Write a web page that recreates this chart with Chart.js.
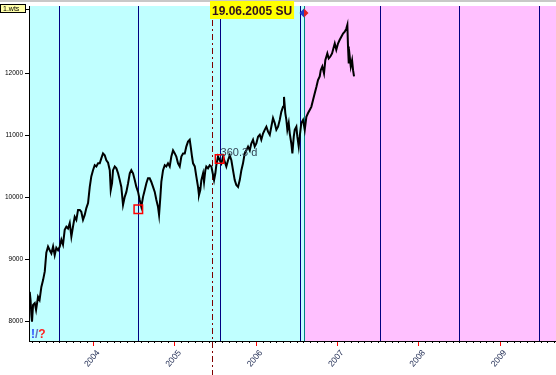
<!DOCTYPE html>
<html>
<head>
<meta charset="utf-8">
<script src="https://cdn.jsdelivr.net/npm/chart.js@4"></script>
<style>
  html, body { margin: 0; padding: 0; background: #fff; overflow: hidden; }
</style>
</head>
<body>
<canvas id="c" width="556" height="375"></canvas>
<script>
// index closes (decimal year, value)
const dates = [
  2003.218, 2003.228, 2003.238, 2003.246, 2003.259, 2003.280, 2003.296, 2003.320, 2003.339, 2003.361,
  2003.382, 2003.403, 2003.422, 2003.443, 2003.464, 2003.484, 2003.505, 2003.525, 2003.545, 2003.566,
  2003.587, 2003.607, 2003.627, 2003.648, 2003.668, 2003.689, 2003.710, 2003.730, 2003.750, 2003.771,
  2003.791, 2003.812, 2003.833, 2003.852, 2003.873, 2003.894, 2003.914, 2003.935, 2003.956, 2003.975,
  2003.996, 2004.017, 2004.037, 2004.058, 2004.079, 2004.098, 2004.119, 2004.140, 2004.160, 2004.181,
  2004.202, 2004.214, 2004.230, 2004.242, 2004.263, 2004.283, 2004.304, 2004.325, 2004.344, 2004.365,
  2004.386, 2004.406, 2004.427, 2004.448, 2004.467, 2004.488, 2004.509, 2004.529, 2004.550, 2004.570,
  2004.590, 2004.611, 2004.632, 2004.652, 2004.672, 2004.693, 2004.713, 2004.734, 2004.755, 2004.775,
  2004.795, 2004.808, 2004.824, 2004.836, 2004.857, 2004.878, 2004.897, 2004.918, 2004.939, 2004.959,
  2004.980, 2005.001, 2005.020, 2005.041, 2005.062, 2005.082, 2005.103, 2005.124, 2005.143, 2005.164,
  2005.185, 2005.197, 2005.213, 2005.226, 2005.247, 2005.266, 2005.287, 2005.299, 2005.315, 2005.328,
  2005.349, 2005.361, 2005.377, 2005.389, 2005.410, 2005.431, 2005.451, 2005.472, 2005.484, 2005.500,
  2005.512, 2005.533, 2005.554, 2005.574, 2005.595, 2005.615, 2005.635, 2005.656, 2005.677, 2005.697,
  2005.717, 2005.738, 2005.758, 2005.779, 2005.800, 2005.820, 2005.840, 2005.861, 2005.881, 2005.902,
  2005.923, 2005.942, 2005.963, 2005.984, 2006.004, 2006.025, 2006.046, 2006.065, 2006.086, 2006.107,
  2006.127, 2006.148, 2006.169, 2006.188, 2006.209, 2006.230, 2006.250, 2006.271, 2006.292, 2006.311,
  2006.332, 2006.344, 2006.360, 2006.373, 2006.385, 2006.402, 2006.415, 2006.434, 2006.447, 2006.464,
  2006.476, 2006.496, 2006.508, 2006.525, 2006.537, 2006.557, 2006.578, 2006.599, 2006.619, 2006.640,
  2006.660, 2006.680, 2006.701, 2006.722, 2006.742, 2006.762, 2006.783, 2006.796, 2006.815, 2006.836,
  2006.852, 2006.877, 2006.894, 2006.914, 2006.935, 2006.951, 2006.968, 2006.987, 2007.008, 2007.029,
  2007.049, 2007.070, 2007.091, 2007.110, 2007.123, 2007.131, 2007.140, 2007.152, 2007.165, 2007.181,
  2007.193, 2007.205
]
const closes = [
  8480, 8350, 8110, 8000, 8270, 8300, 8190, 8400, 8350, 8560,
  8670, 8810, 9110, 9210, 9150, 9100, 9210, 9070, 9190, 9150,
  9210, 9320, 9240, 9480, 9530, 9500, 9590, 9370, 9530, 9690,
  9640, 9800, 9800, 9770, 9640, 9720, 9830, 9910, 10170, 10340,
  10440, 10520, 10500, 10550, 10550, 10630, 10710, 10680, 10600, 10560,
  10440, 10120, 10230, 10440, 10500, 10470, 10390, 10280, 10170, 9880,
  10010, 10090, 10230, 10390, 10440, 10390, 10280, 10170, 10090, 9960,
  9850, 10010, 10120, 10230, 10310, 10310, 10250, 10170, 10090, 9960,
  9850, 9720, 10010, 10250, 10440, 10520, 10500, 10550, 10500, 10660,
  10760, 10710, 10660, 10550, 10500, 10660, 10710, 10710, 10820, 10900,
  10930, 10820, 10660, 10550, 10500, 10340, 10170, 10040, 10120, 10280,
  10390, 10250, 10440, 10500, 10470, 10520, 10500, 10360, 10280, 10390,
  10520, 10660, 10600, 10550, 10660, 10580, 10500, 10600, 10680, 10600,
  10440, 10280, 10200, 10170, 10280, 10440, 10550, 10710, 10760, 10820,
  10760, 10870, 10930, 10820, 10870, 10980, 11010, 10930, 11030, 11090,
  11140, 11060, 11010, 11140, 11280, 11200, 11090, 11140, 11250, 11380,
  11460, 11620, 11360, 11250, 11090, 11200, 11030, 10870, 10710, 10980,
  11090, 11140, 10980, 10820, 10980, 11200, 11250, 11090, 11300, 11360,
  11410, 11460, 11570, 11680, 11780, 11890, 11950, 12050, 12110, 12000,
  12210, 12320, 12240, 12270, 12320, 12400, 12480, 12380, 12480, 12540,
  12590, 12640, 12670, 12720, 12780, 12430, 12160, 12270, 12110, 12210,
  12050, 11950
]

// red square markers and the cycle lines
const markDates = [2004.553, 2005.552]
const markValues = [9810, 10620]
const cycleDates = [2003.572, 2004.553, 2005.552, 2006.535, 2007.519, 2008.500, 2009.483]
const zoneSplit = 2006.597
const signalDate = 2005.463
const signalText = "19.06.2005 SU"
const spanText = "360.3 d"
const spanValue = 10670

const yearTicks = [2004, 2005, 2006, 2007, 2008, 2009]
const valueTicks = [8000, 9000, 10000, 11000, 12000]

const FONT = "'Liberation Sans', Arial, sans-serif"

const vline = (ctx, x, y0, y1) => {
  ctx.beginPath()
  ctx.moveTo(x, y0)
  ctx.lineTo(x, y1)
  ctx.stroke()
}

const decor = {
  id: "decor",
  beforeDraw(chart) {
    const { ctx, chartArea: a, scales: { x } } = chart
    const split = Math.round(x.getPixelForValue(zoneSplit))
    ctx.save()
    ctx.fillStyle = "#c0ffff"
    ctx.fillRect(a.left, a.top, split - a.left, a.bottom - a.top)
    ctx.fillStyle = "#ffc0ff"
    ctx.fillRect(split, a.top, a.right - split, a.bottom - a.top)
    ctx.restore()
  },
  beforeDatasetsDraw(chart) {
    const { ctx, chartArea: a, scales: { x } } = chart
    ctx.save()
    ctx.lineWidth = 1
    ctx.strokeStyle = "#000080"
    cycleDates.forEach((d) => {
      const px = Math.round(x.getPixelForValue(d)) + 0.5
      vline(ctx, px, a.top, a.bottom)
    })
    ctx.strokeStyle = "#008080"
    const tp = Math.round(x.getPixelForValue(zoneSplit)) - 0.5
    vline(ctx, tp, a.top, a.bottom)

    // signal date, dash-dot
    const sp = Math.round(x.getPixelForValue(signalDate)) + 0.5
    ctx.strokeStyle = "#800000"
    ctx.setLineDash([6, 3, 2, 3])
    vline(ctx, sp, 20, chart.height)
    ctx.setLineDash([])

    // minor month ticks on the time axis
    ctx.strokeStyle = "#000"
    for (let m = Math.ceil(x.min * 12); m <= x.max * 12; m++) {
      if (m % 12 === 0) continue
      const px = Math.round(x.getPixelForValue(m / 12)) + 0.5
      vline(ctx, px, a.bottom, a.bottom + 2)
    }
    ctx.restore()
  },
  afterDatasetsDraw(chart) {
    const { ctx, scales: { x, y } } = chart
    ctx.save()
    ctx.font = "11px " + FONT
    ctx.fillStyle = "#334455"
    ctx.textBaseline = "alphabetic"
    ctx.fillText(spanText, x.getPixelForValue(markDates[1]) + 1, y.getPixelForValue(spanValue))
    ctx.restore()
  },
  afterDraw(chart) {
    const { ctx, chartArea: a, scales: { x } } = chart
    ctx.save()
    // top strip
    ctx.fillStyle = "#c8c8c8"
    ctx.fillRect(0, 0, chart.width, 2)

    // signal label
    const sp = Math.round(x.getPixelForValue(signalDate))
    ctx.font = "bold 12px " + FONT
    const w = ctx.measureText(signalText).width
    ctx.fillStyle = "#ffff00"
    ctx.fillRect(sp - 2, 1, w + 4, 18)
    ctx.fillStyle = "#301020"
    ctx.textBaseline = "alphabetic"
    ctx.fillText(signalText, sp, 15)

    // diamond at zone split
    const dp = Math.round(x.getPixelForValue(zoneSplit)) - 1
    ctx.fillStyle = "#1e3cc8"
    ctx.beginPath()
    ctx.moveTo(dp, 8.5); ctx.lineTo(dp - 4.5, 13); ctx.lineTo(dp, 17.5); ctx.closePath()
    ctx.fill()
    ctx.fillStyle = "#e02020"
    ctx.beginPath()
    ctx.moveTo(dp, 8.5); ctx.lineTo(dp + 4.5, 13); ctx.lineTo(dp, 17.5); ctx.closePath()
    ctx.fill()

    // series name tag
    ctx.fillStyle = "#ffffa8"
    ctx.fillRect(0.5, 4.5, 25, 8)
    ctx.strokeStyle = "#000"
    ctx.lineWidth = 1
    ctx.strokeRect(0.5, 4.5, 25, 8)
    ctx.beginPath()
    ctx.moveTo(25.5, 9.5); ctx.lineTo(a.left, 9.5)
    ctx.stroke()
    ctx.font = "7px " + FONT
    ctx.fillStyle = "#000"
    ctx.textBaseline = "middle"
    ctx.fillText("1.wts", 3, 9)

    // !/? marks
    ctx.font = "bold 12px " + FONT
    ctx.textBaseline = "alphabetic"
    let cx = a.left + 2
    ;[["!", "#3050ff"], ["/", "#6070c0"], ["?", "#ff2020"]].forEach(([t, c]) => {
      ctx.fillStyle = c
      ctx.fillText(t, cx, 338)
      cx += ctx.measureText(t).width
    })
    ctx.restore()
  },
}

const ctx = document.getElementById("c").getContext("2d")
new Chart(ctx, {
  type: "line",
  data: {
    datasets: [
      {
        label: "close",
        data: dates.map((d, i) => ({ x: d, y: closes[i] })),
        borderColor: "#000",
        borderWidth: 2,
        pointRadius: 0,
        tension: 0,
        order: 2,
      },
      {
        type: "scatter",
        label: "marks",
        data: markDates.map((d, i) => ({ x: d, y: markValues[i] })),
        pointStyle: "rect",
        pointRadius: 6,
        borderColor: "#ff0000",
        borderWidth: 1.5,
        backgroundColor: "rgba(0,0,0,0)",
        order: 1,
      },
    ],
  },
  options: {
    responsive: false,
    animation: false,
    layout: { autoPadding: false, padding: { top: 6, left: 0, right: 0, bottom: 0 } },
    plugins: { legend: { display: false }, tooltip: { enabled: false } },
    scales: {
      x: {
        type: "linear",
        min: 2003.209,
        max: 2009.688,
        afterBuildTicks: (s) => { s.ticks = yearTicks.map((v) => ({ value: v })) },
        afterFit: (s) => { s.height = 34; s.paddingLeft = 0; s.paddingRight = 0 },
        grid: { drawOnChartArea: false, color: "#ff0000", tickColor: "#ff0000", tickLength: 5 },
        border: { color: "#000" },
        ticks: {
          autoSkip: false,
          minRotation: 50,
          maxRotation: 50,
          padding: 2,
          labelOffset: 5,
          color: "#1c2850",
          font: { family: FONT, size: 8.5 },
          callback: (v) => String(v),
        },
      },
      y: {
        min: 7689,
        max: 13084,
        afterBuildTicks: (s) => { s.ticks = valueTicks.map((v) => ({ value: v })) },
        afterFit: (s) => { s.width = 29 },
        grid: { drawOnChartArea: false, tickColor: "#000", tickLength: 4 },
        border: { color: "#000" },
        ticks: {
          padding: 2,
          color: "#000",
          font: { family: FONT, size: 6.5 },
          callback: (v) => String(v),
        },
      },
    },
  },
  plugins: [decor],
})
</script>
</body>
</html>
